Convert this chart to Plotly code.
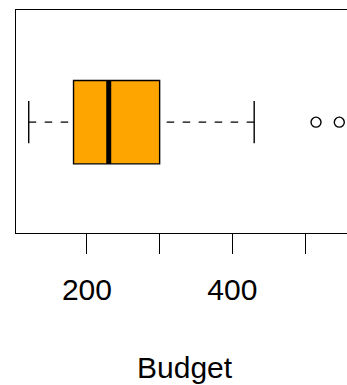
import plotly.graph_objects as go

# Data
lower_whisker = [120]
q1 = [181.6]
median = [230]
q3 = [300]
upper_whisker = [430]
outliers = [515, 547]
tick_values = [200, 300, 400, 500]
tick_labels = ["200", "", "400", ""]
axis_title = "Budget"

ypos = 0.497
box_w = 0.374
cap_half = 0.095

fig = go.Figure()

# Box body
fig.add_trace(go.Box(
    y=[ypos], q1=q1, median=median, q3=q3,
    lowerfence=q1, upperfence=q3,
    orientation="h", width=box_w,
    fillcolor="#FFA500", line=dict(color="black", width=1.4),
    boxpoints=False, hoverinfo="skip", showlegend=False,
))
# Thick median
fig.add_trace(go.Scatter(
    x=[median[0], median[0]], y=[ypos - box_w / 2, ypos + box_w / 2],
    mode="lines", line=dict(color="black", width=5), showlegend=False,
))
# Dashed whiskers (drawn from the caps towards the box)
fig.add_trace(go.Scatter(
    x=[lower_whisker[0], q1[0], None, upper_whisker[0], q3[0]],
    y=[ypos, ypos, None, ypos, ypos],
    mode="lines", line=dict(color="black", width=1.4, dash="7.5px,8.5px"), showlegend=False,
))
# Whisker caps
fig.add_trace(go.Scatter(
    x=[lower_whisker[0], lower_whisker[0], None, upper_whisker[0], upper_whisker[0]],
    y=[ypos - cap_half, ypos + cap_half, None, ypos - cap_half, ypos + cap_half],
    mode="lines", line=dict(color="black", width=1.4), showlegend=False,
))
# Outliers
fig.add_trace(go.Scatter(
    x=outliers, y=[ypos] * len(outliers), mode="markers",
    marker=dict(symbol="circle-open", size=10, color="black", line=dict(width=1.4)),
    showlegend=False, cliponaxis=True,
))

fig.update_layout(
    width=347, height=385,
    margin=dict(l=16, r=0, t=10, b=152),
    plot_bgcolor="white", paper_bgcolor="white",
    font=dict(family="Liberation Sans, Arial, sans-serif", size=30, color="black"),
    xaxis=dict(
        range=[102.5, 557.6], showgrid=False, zeroline=False,
        showline=True, linecolor="black", linewidth=1.4, mirror=True,
        ticks="outside", ticklen=20, tickwidth=1.4, tickcolor="black",
        tickvals=tick_values, ticktext=tick_labels,
        ticklabelstandoff=10,
    ),
    yaxis=dict(
        range=[0, 1], showgrid=False, zeroline=False,
        showline=True, linecolor="black", linewidth=1.4,
        showticklabels=False, ticks="",
    ),
    annotations=[dict(
        text=axis_title, xref="paper", yref="paper", x=0.511, y=-0.604,
        xanchor="center", yanchor="middle", showarrow=False,
        font=dict(size=30),
    )],
)

fig.write_html(
    "out.html",
    config={"displayModeBar": False},
    post_script="document.body.style.margin='0';document.body.style.overflow='hidden';",
)
